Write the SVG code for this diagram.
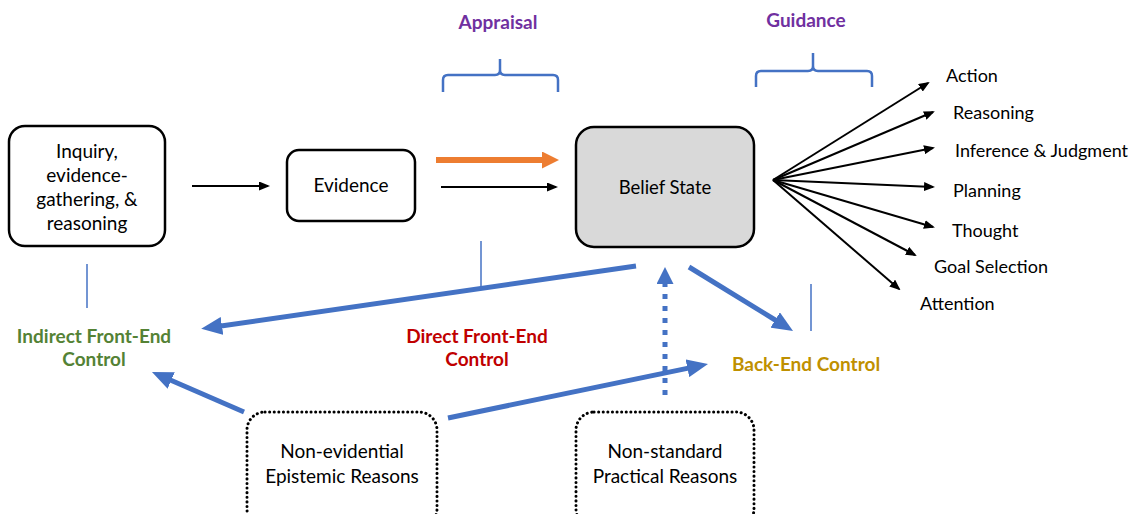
<svg xmlns="http://www.w3.org/2000/svg" width="1131" height="514" viewBox="0 0 1131 514">
<style>
text{font-family:Lato,"Open Sans","Liberation Sans",sans-serif;fill:#000;}
.box{fill:#fff;stroke:#000;stroke-width:2.5;}
.dot{fill:#fff;stroke:#000;stroke-width:3;stroke-dasharray:0.1 4.5;stroke-linecap:round;}
.blue{stroke:#4472c4;stroke-width:5;fill:none;}
.thin{stroke:#4472c4;stroke-width:1.5;fill:none;}
.brace{stroke:#4472c4;stroke-width:2.5;fill:none;}
.blk{stroke:#000;stroke-width:2;fill:none;}
.lbl{font-weight:bold;font-size:19px;text-anchor:middle;}
.nt{font-size:19px;text-anchor:middle;}
.ot{font-size:18px;}
</style>
<defs>
<marker id="bh" markerUnits="userSpaceOnUse" markerWidth="21" markerHeight="18" viewBox="0 0 21 18" refX="1" refY="9" orient="auto"><path d="M0,0 L21,9 L0,18 z" fill="#4472c4"/></marker>
<marker id="bh2" markerUnits="userSpaceOnUse" markerWidth="17" markerHeight="17" viewBox="0 0 17 17" refX="1" refY="8.5" orient="auto"><path d="M0,0 L17,8.5 L0,17 z" fill="#4472c4"/></marker>
<marker id="oh" markerUnits="userSpaceOnUse" markerWidth="17" markerHeight="17" viewBox="0 0 17 17" refX="1" refY="8.5" orient="auto"><path d="M0,0 L17,8.5 L0,17 z" fill="#ed7d31"/></marker>
<marker id="kh" markerUnits="userSpaceOnUse" markerWidth="11" markerHeight="9" viewBox="0 0 11 9" refX="9" refY="4.5" orient="auto"><path d="M0,0 L11,4.5 L0,9 z" fill="#000"/></marker>
</defs>

<g id="labels">
<text class="lbl" x="498" y="29" style="fill:#7030a0">Appraisal</text>
<text class="lbl" x="806" y="27" style="fill:#7030a0">Guidance</text>
<text class="lbl" x="94" y="343" style="fill:#548235">Indirect Front-End</text>
<text class="lbl" x="94" y="366" style="fill:#548235">Control</text>
<text class="lbl" x="477" y="343" style="fill:#c00000">Direct Front-End</text>
<text class="lbl" x="477" y="366" style="fill:#c00000">Control</text>
<text class="lbl" x="806" y="371" style="fill:#bf9000">Back-End Control</text>
</g>

<g id="braces">
<path class="brace" d="M443,92 L443,80 Q443,75 448,75 L495,75 Q500,75 500,70 L500,59 M500,70 Q500,75 505,75 L553,75 Q558,75 558,80 L558,92"/>
<path class="brace" d="M756,87 L756,76 Q756,71 761,71 L808,71 Q813,71 813,66 L813,53 M813,66 Q813,71 818,71 L867,71 Q872,71 872,76 L872,87"/>
</g>

<g id="node-inquiry">
<rect class="box" x="9" y="126" width="156" height="120" rx="16"/>
<text class="nt" x="87" y="158">Inquiry,</text>
<text class="nt" x="87" y="182">evidence-</text>
<text class="nt" x="87" y="206">gathering, &amp;</text>
<text class="nt" x="87" y="230">reasoning</text>
</g>
<g id="node-evidence">
<rect class="box" x="287" y="150" width="128" height="71" rx="12"/>
<text class="nt" x="351" y="192">Evidence</text>
</g>
<g id="node-belief">
<rect x="576" y="127" width="178" height="120" rx="18" fill="#d9d9d9" stroke="#000" stroke-width="2.5"/>
<text x="665" y="194" style="font-size:18.5px;text-anchor:middle">Belief State</text>
</g>
<g id="node-nonevidential">
<rect class="dot" x="247" y="412" width="190" height="115" rx="18"/>
<text class="nt" x="342" y="458">Non-evidential</text>
<text class="nt" x="342" y="483">Epistemic Reasons</text>
</g>
<g id="node-nonstandard">
<rect class="dot" x="576" y="412" width="178" height="115" rx="18"/>
<text class="nt" x="665" y="458">Non-standard</text>
<text class="nt" x="665" y="483">Practical Reasons</text>
</g>

<g id="outputs">
<text class="ot" x="946" y="82">Action</text>
<text class="ot" x="953" y="119">Reasoning</text>
<text class="ot" x="955" y="157">Inference &amp; Judgment</text>
<text class="ot" x="953" y="197">Planning</text>
<text class="ot" x="952" y="237">Thought</text>
<text class="ot" x="934" y="273">Goal Selection</text>
<text class="ot" x="920" y="310">Attention</text>
</g>

<g id="connectors">
<line class="blk" x1="192" y1="186" x2="268" y2="186" marker-end="url(#kh)"/>
<line class="blk" x1="441" y1="187" x2="556" y2="187" marker-end="url(#kh)"/>
<line x1="436" y1="160" x2="543" y2="160" stroke="#ed7d31" stroke-width="6" marker-end="url(#oh)"/>
<line class="blk" x1="773" y1="180" x2="928" y2="83" marker-end="url(#kh)"/>
<line class="blk" x1="773" y1="180" x2="933" y2="112" marker-end="url(#kh)"/>
<line class="blk" x1="773" y1="180" x2="933" y2="148" marker-end="url(#kh)"/>
<line class="blk" x1="773" y1="180" x2="933" y2="187" marker-end="url(#kh)"/>
<line class="blk" x1="773" y1="180" x2="933" y2="227" marker-end="url(#kh)"/>
<line class="blk" x1="773" y1="180" x2="915" y2="255" marker-end="url(#kh)"/>
<line class="blk" x1="773" y1="180" x2="899" y2="289" marker-end="url(#kh)"/>
<line class="thin" x1="87" y1="264" x2="87" y2="308"/>
<line class="thin" x1="481" y1="241" x2="481" y2="287"/>
<line class="thin" x1="811" y1="284" x2="811" y2="331"/>
<line class="blue" x1="636" y1="266" x2="221" y2="326" marker-end="url(#bh)"/>
<line class="blue" x1="689" y1="267" x2="776" y2="320.5" marker-end="url(#bh)"/>
<line class="blue" x1="448" y1="418" x2="688.4" y2="368.1" marker-end="url(#bh)"/>
<line class="blue" x1="244" y1="412" x2="170.3" y2="380" marker-end="url(#bh)"/>
<line class="blue" x1="665" y1="395" x2="665" y2="283" stroke-dasharray="5 7" marker-end="url(#bh2)"/>
</g>
</svg>
